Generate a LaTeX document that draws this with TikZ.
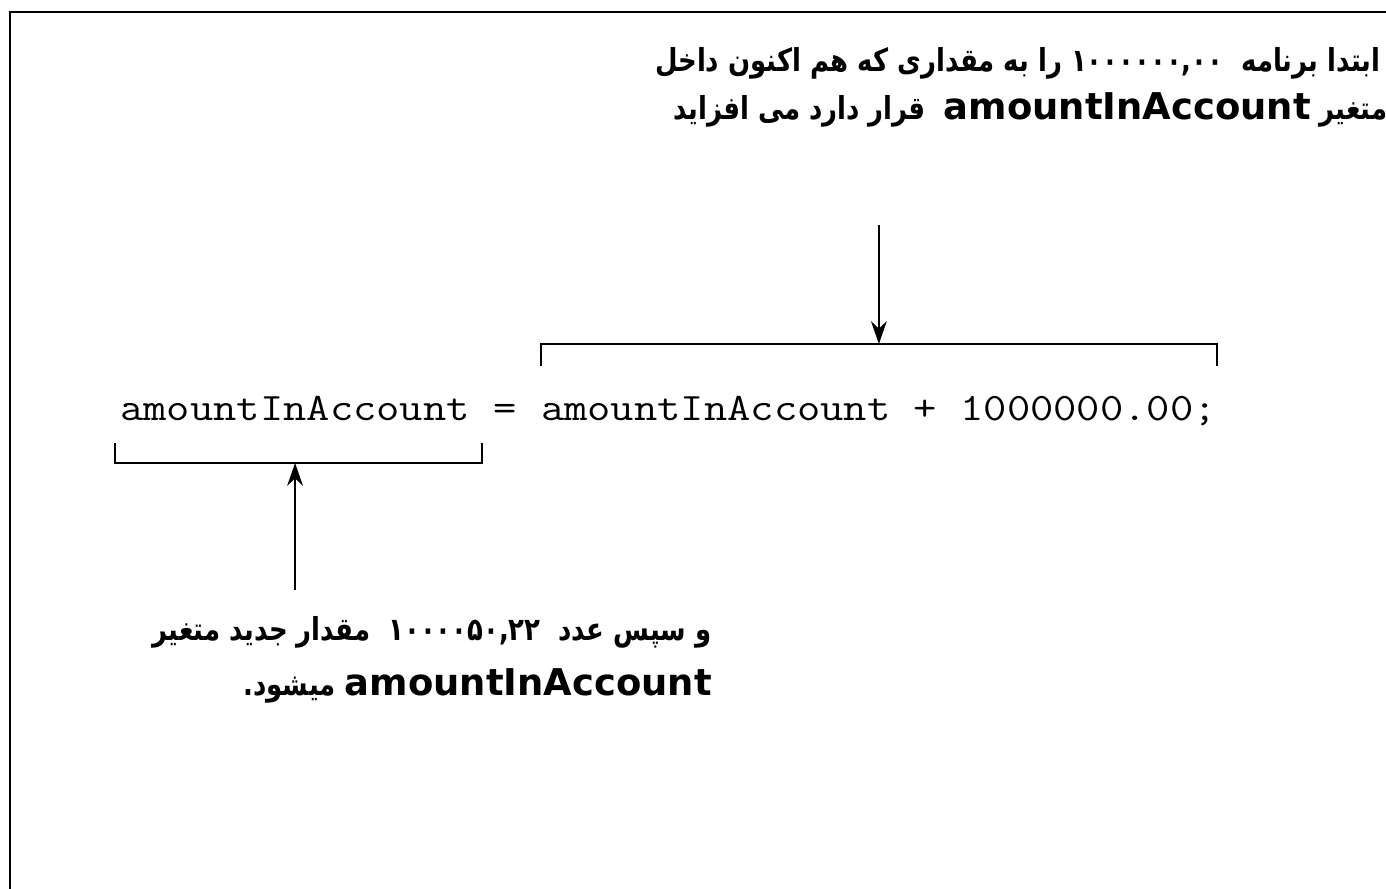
\documentclass[tikz,border=0pt]{standalone}
\usepackage{fontspec}
\usepackage{tikz}
\usetikzlibrary{positioning,arrows.meta}
\TeXXeTstate=1
\newfontfamily\fafont[Script=Arabic,FakeStretch=0.82]{DejaVu Sans}
\newfontfamily\enfont{DejaVu Sans}
\newfontfamily\codefont[FakeStretch=1.165]{Latin Modern Mono}

\begin{document}
\begin{tikzpicture}[x=0.02cm,y=-0.02cm,note/.style={inner sep=0pt,font=\fafont\bfseries\fontsize{18}{21}\selectfont},code/.style={inner sep=0pt,font=\codefont\fontsize{22.1}{26}\selectfont},frame/.style={line width=1.7pt},bracket/.style={line width=1.4pt},pointer/.style={line width=1.1pt,-{Stealth[length=13pt,width=9pt]}}]
\def\cw{13.26pt};
\def\tick{22};
\def\vname{{\enfont\bfseries\fontsize{21}{24}\selectfont amountInAccount}};

\clip (0,0) rectangle (1386,889);
\draw[frame] (1400,12) -- (10,12) -- (10,900);

% the statement
\node[code,anchor=west] (lhs) at (120,408) {amountInAccount};
\node[code,base right=\cw of lhs] (eq) {=};
\node[code,base right=\cw of eq] (rhs) {amountInAccount + 1000000.00;};

% brackets
\coordinate (rb1) at (rhs.west |- 0,344);
\coordinate (rb2) at (rhs.east |- 0,344);
\draw[bracket] (rb1) ++(0,\tick) -- (rb1) -- (rb2) -- ++(0,\tick);
\coordinate (lb1) at (115,463);
\coordinate (lb2) at (482,463);
\draw[bracket] (lb1) ++(0,-20) -- (lb1) -- (lb2) -- ++(0,-20);

% notes
\node[note,anchor=base east] (first1) at (1381,71) {\beginR ابتدا برنامه \ \beginL ۱۰۰۰۰۰۰,۰۰\endL{} را به مقداری که هم اکنون داخل\endR};
\node[note,anchor=base east] (first2) at (1388,119) {\beginR متغیر \beginL\vname\endL{} \ قرار دارد می افزاید\endR};
\node[note,anchor=base east] (then1) at (712,640) {\beginR و سپس عدد \ \beginL ۱۰۰۰۰۵۰,۲۲\endL{} \ مقدار جدید متغیر\endR};
\node[note,anchor=base east] (then2) at (712,695) {\beginR \beginL\vname\endL{} میشود.\endR};

% pointers
\coordinate (rtail) at (rhs.north |- 0,225);
\draw[pointer] (rtail) -- (rhs.north |- rb1);
\coordinate (ltail) at (lhs.south |- 0,590);
\draw[pointer] (ltail) -- (lhs.south |- lb1);

\end{tikzpicture}
\end{document}
